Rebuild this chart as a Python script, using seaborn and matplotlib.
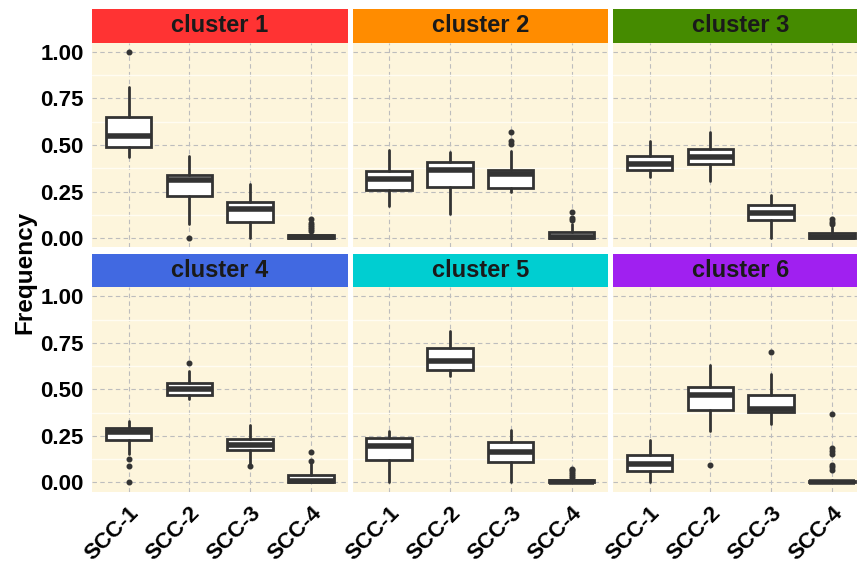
import numpy as np
import pandas as pd
import seaborn as sns
import matplotlib
matplotlib.use("Agg")
import matplotlib.pyplot as plt
from matplotlib.patches import Rectangle

# ---------------- data ----------------
clusters = ["cluster 1", "cluster 2", "cluster 3", "cluster 4", "cluster 5", "cluster 6"]
categories = ["SCC-1", "SCC-2", "SCC-3", "SCC-4"]
strip_colors = ["#FF3333", "#FF8C00", "#458B00", "#4169E1", "#00CED1", "#A020F0"]

whisker_low = [
    [0.435, 0.075, 0.000, 0.000],
    [0.170, 0.129, 0.245, 0.000],
    [0.326, 0.308, 0.000, 0.000],
    [0.153, 0.447, 0.100, 0.000],
    [0.000, 0.571, 0.000, 0.000],
    [0.004, 0.278, 0.312, 0.000],
]
q1 = [
    [0.487, 0.224, 0.084, 0.000],
    [0.260, 0.274, 0.269, 0.000],
    [0.363, 0.400, 0.095, 0.000],
    [0.228, 0.468, 0.175, 0.000],
    [0.120, 0.604, 0.110, 0.000],
    [0.061, 0.390, 0.378, 0.000],
]
median = [
    [0.547, 0.314, 0.158, 0.004],
    [0.319, 0.367, 0.346, 0.008],
    [0.400, 0.437, 0.137, 0.005],
    [0.270, 0.499, 0.198, 0.008],
    [0.195, 0.653, 0.161, 0.004],
    [0.100, 0.467, 0.395, 0.003],
]
q3 = [
    [0.649, 0.337, 0.195, 0.014],
    [0.362, 0.409, 0.367, 0.032],
    [0.442, 0.480, 0.176, 0.025],
    [0.294, 0.535, 0.234, 0.040],
    [0.237, 0.721, 0.217, 0.010],
    [0.145, 0.515, 0.467, 0.008],
]
whisker_high = [
    [0.812, 0.443, 0.289, 0.035],
    [0.473, 0.461, 0.466, 0.077],
    [0.520, 0.572, 0.232, 0.060],
    [0.328, 0.598, 0.306, 0.100],
    [0.278, 0.816, 0.282, 0.020],
    [0.228, 0.632, 0.583, 0.010],
]
outliers = [
    [[1.0], [0.0], [], [0.04, 0.05, 0.06, 0.07, 0.08, 0.10]],
    [[], [], [0.505, 0.52, 0.568], [0.095, 0.108, 0.14]],
    [[], [], [], [0.075, 0.085, 0.10]],
    [[0.0, 0.09, 0.124], [0.64], [0.085], [0.115, 0.165]],
    [[], [], [], [0.025, 0.035, 0.045, 0.055, 0.065, 0.074]],
    [[], [0.093], [0.702], [0.066, 0.081, 0.093, 0.153, 0.169, 0.187, 0.368]],
]
y_ticks = [0.0, 0.25, 0.5, 0.75, 1.0]
y_ticklabels = ["0.00", "0.25", "0.50", "0.75", "1.00"]

# ---------------- long table ----------------
rows = []
for ci, cl in enumerate(clusters):
    for ki, cat in enumerate(categories):
        rows.append(dict(cluster=cl, category=cat, pos=ki,
                         whislo=whisker_low[ci][ki], q1=q1[ci][ki], med=median[ci][ki],
                         q3=q3[ci][ki], whishi=whisker_high[ci][ki],
                         fliers=outliers[ci][ki]))
df = pd.DataFrame(rows)

sns.set_theme(style="white")
plt.rcParams["font.family"] = ["Liberation Sans", "DejaVu Sans"]
plt.rcParams["font.weight"] = "bold"

DARK = "#333333"


def draw_boxes(data, **kws):
    ax = plt.gca()
    stats = []
    for _, r in data.iterrows():
        stats.append(dict(whislo=r.whislo, q1=r.q1, med=r.med, q3=r.q3,
                          whishi=r.whishi, fliers=np.array(r.fliers, dtype=float)))
    ax.bxp(stats, positions=list(data["pos"]), widths=0.75, patch_artist=True,
           showcaps=False, manage_ticks=False,
           boxprops=dict(facecolor="white", edgecolor=DARK, linewidth=2.0),
           medianprops=dict(color=DARK, linewidth=4.0, solid_capstyle="butt"),
           whiskerprops=dict(color=DARK, linewidth=2.0),
           flierprops=dict(marker="o", markersize=3.3, markerfacecolor=DARK,
                           markeredgecolor=DARK))


g = sns.FacetGrid(df, col="cluster", col_wrap=3, col_order=clusters,
                  sharex=True, sharey=True, height=2.5, aspect=1.2)
g.map_dataframe(draw_boxes)
g.set_titles("")
g.set_axis_labels("", "")

fig = g.figure
fig.set_size_inches(8.57, 5.63)
W, H = 857.0, 563.0
col_left = [92.0, 352.5, 613.0]
panel_w = 255.5
row_top = [42.7, 287.0]
panel_h = 204.6
strip_h = 33.5

for i, ax in enumerate(g.axes.flat):
    r, c = divmod(i, 3)
    x0 = col_left[c]
    y0 = row_top[r]
    ax.set_position([x0 / W, 1 - (y0 + panel_h) / H, panel_w / W, panel_h / H])
    ax.set_facecolor("#FDF5DC")
    for s in ax.spines.values():
        s.set_visible(False)
    ax.set_xlim(-0.6, 3.6)
    ax.set_ylim(-0.05, 1.05)
    ax.set_xticks(range(len(categories)))
    ax.set_yticks(y_ticks)
    ax.set_yticks([0.125, 0.375, 0.625, 0.875], minor=True)
    ax.set_axisbelow(True)
    ax.grid(True, which="major", linestyle=(0, (4, 3)), color="#BDBDBD", linewidth=0.8)
    ax.grid(True, which="minor", axis="y", linestyle="-", color="#FFFCF2", linewidth=1.0)
    ax.tick_params(which="minor", length=0)
    ax.tick_params(axis="both", which="major", length=4, width=1, color=DARK, pad=2)
    if c == 0:
        ax.set_yticklabels(y_ticklabels, fontsize=16, fontweight="bold", color="black")
    else:
        ax.tick_params(axis="y", left=False, labelleft=False)
    if r == 1:
        ax.tick_params(axis="x", pad=4)
        ax.set_xticklabels(categories, fontsize=16, fontweight="bold", color="black",
                           rotation=45, ha="right", rotation_mode="anchor")
    else:
        ax.tick_params(axis="x", bottom=False, labelbottom=False)
    hfrac = strip_h / panel_h
    ax.add_patch(Rectangle((0, 1.0), 1, hfrac, transform=ax.transAxes,
                           facecolor=strip_colors[i], edgecolor="none", clip_on=False))
    ax.text(0.5, 1.0 + hfrac / 2, clusters[i], transform=ax.transAxes,
            ha="center", va="center", fontsize=17, fontweight="bold", color="#1A1A1A")

fig.text(25 / W, 1 - 272 / H, "Frequency", rotation=90, ha="center", va="center",
         fontsize=17.5, fontweight="bold", color="black")

fig.savefig("out.png", dpi=100, facecolor="white")
